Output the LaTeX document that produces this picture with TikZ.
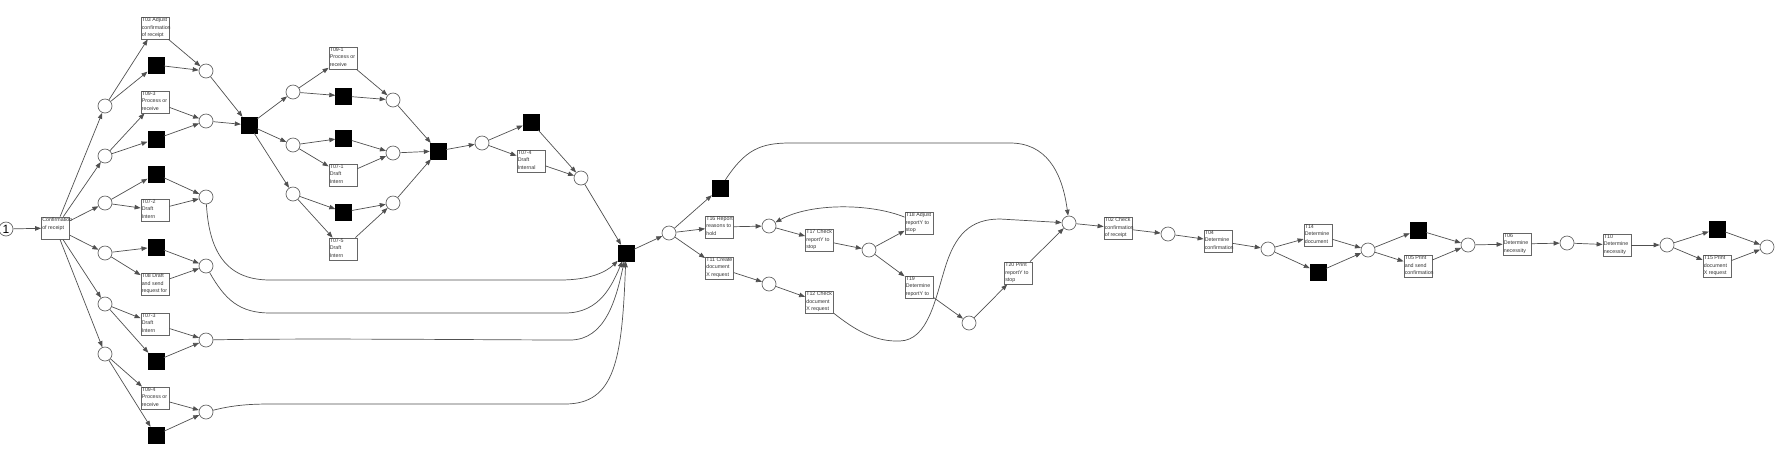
\documentclass[tikz,border=0pt]{standalone}
\usepackage{fontspec}
\setmainfont{Liberation Sans}
\usetikzlibrary{arrows.meta}
\definecolor{lin}{HTML}{505050}
\definecolor{brd}{HTML}{666666}
\definecolor{txt}{HTML}{333333}
\tikzset{
  pl/.style={circle,draw=brd,line width=0.7pt,fill=white,minimum size=14pt,inner sep=0pt},
  tbox/.style={rectangle,draw=brd,line width=0.8pt,fill=white,minimum width=28pt,minimum height=22pt,inner sep=0pt},
  tlab/.style={anchor=north west,align=left,inner xsep=1pt,inner ysep=1.2pt,text=txt,font=\fontsize{5.3}{7.2}\selectfont},
  blk/.style={rectangle,fill=black,draw=black,minimum size=16pt,inner sep=0pt},
  arc/.style={draw=lin,line width=0.7pt,-{Triangle[length=6pt,width=4.5pt]}}
}
\newcommand{\mytrans}[3]{\node[tbox] (#1) at (#2) {}; \node[tlab] (#1-l) at (#1.north west) {#3};}
\begin{document}
\begin{tikzpicture}[x=1pt,y=-1pt]
\useasboundingbox (0,0) rectangle (1781,451);
% places
\node[pl,font=\fontsize{12}{12}\selectfont] (start) at (6,229) {1};
\foreach \n/\yy in {pa/106,pb/156,pc/203,pd/253,pe/304,pf/354} \node[pl] (\n) at (105,\yy) {};
\foreach \n/\yy in {q1/71,q2/121,q3/197,q4/266,q5/340,q6/412} \node[pl] (\n) at (206,\yy) {};
\foreach \n/\yy in {r1/92,r2/145,r3/194} \node[pl] (\n) at (293,\yy) {};
\foreach \n/\yy in {s1/100,s2/153,s3/203} \node[pl] (\n) at (393,\yy) {};
\node[pl] (u) at (482,143) {};
\node[pl] (v) at (581,178) {};
\node[pl] (w) at (669,233) {};
\node[pl] (x1) at (769,226) {};
\node[pl] (x2) at (769,284) {};
\node[pl] (y) at (869,250) {};
\node[pl] (z) at (969,323) {};
\node[pl] (aa) at (1069,223) {};
\node[pl] (bb) at (1168,234) {};
\node[pl] (cc) at (1268,249) {};
\node[pl] (dd) at (1368,250) {};
\node[pl] (ee) at (1468,245) {};
\node[pl] (ff) at (1567,243) {};
\node[pl] (gg) at (1667,245) {};
\node[pl] (hh) at (1767,247) {};
% labelled transitions
\mytrans{conf}{55.5,228}{Confirmation\\of receipt}
\mytrans{t03}{155,28}{T03 Adjust\\confirmation\\ of receipt}
\mytrans{t093}{155,102}{T09-3\\Process or\\receive}
\mytrans{t072}{155,210}{T07-2\\Draft\\Intern}
\mytrans{t08}{155,284}{T08 Draft\\and send\\request for}
\mytrans{t073}{155,324}{T07-3\\Draft\\Intern}
\mytrans{t094}{155,398}{T09-4\\Process or\\receive}
\mytrans{t091}{343,58}{T09-1\\Process or\\receive}
\mytrans{t071}{343,175}{T07-1\\Draft\\Intern}
\mytrans{t075}{343,249}{T07-5\\Draft\\Intern}
\mytrans{t074}{531,161}{T07-4\\Draft\\Internal}
\mytrans{t16}{719.5,227}{T16 Report\\reasons to\\hold}
\mytrans{t11}{719.5,268}{T11 Create\\document\\X request}
\mytrans{t17}{819.5,240}{T17 Check\\reportY to\\stop}
\mytrans{t12}{819.5,302}{T12 Check\\document\\X request}
\mytrans{t18}{919,223}{T18 Adjust\\reportY to\\stop}
\mytrans{t19}{919,287}{T19\\Determine\\reportY to}
\mytrans{t20}{1018.5,273}{T20 Print\\reportY to\\stop}
\mytrans{t02}{1118,228}{T02 Check\\confirmation\\of receipt}
\mytrans{t04}{1218,241}{T04\\Determine\\confirmation}
\mytrans{t14}{1318,235}{T14\\Determine\\document}
\mytrans{t05}{1418,266}{T05 Print\\and send\\confirmation}
\mytrans{t06}{1517,244}{T06\\Determine\\necessity}
\mytrans{t10}{1617,245}{T10\\Determine\\necessity}
\mytrans{t15}{1717,266}{T15 Print\\document\\X request}
% silent transitions
\foreach \n/\yy in {b1/65,b2/139,b3/174,b4/247,b5/361,b6/435} \node[blk] (\n) at (155.7,\yy) {};
\node[blk] (bs) at (249,125) {};
\node[blk] (b7) at (343.5,96) {};
\node[blk] (b8) at (343.5,138) {};
\node[blk] (b9) at (343.5,212) {};
\node[blk] (bj) at (438,151) {};
\node[blk] (b10) at (531,122) {};
\node[blk] (bigj) at (626,253) {};
\node[blk] (b11) at (720,188) {};
\node[blk] (b12) at (1318,272) {};
\node[blk] (b13) at (1418,230) {};
\node[blk] (b14) at (1717,229) {};
% straight arcs
\foreach \a/\b in {start/conf,conf/pa,conf/pb,conf/pc,conf/pd,conf/pe,conf/pf,
  pa/t03,pa/b1,pb/t093,pb/b2,pc/b3,pc/t072,pd/b4,pd/t08,pe/t073,pe/b5,pf/t094,pf/b6,
  t03/q1,b1/q1,t093/q2,b2/q2,b3/q3,t072/q3,b4/q4,t08/q4,t073/q5,b5/q5,t094/q6,b6/q6,
  q1/bs,q2/bs,bs/r1,bs/r2,bs/r3,r1/t091,r1/b7,r2/b8,r2/t071,r3/b9,r3/t075,
  t091/s1,b7/s1,b8/s2,t071/s2,b9/s3,t075/s3,s1/bj,s2/bj,s3/bj,bj/u,
  u/b10,u/t074,b10/v,t074/v,v/bigj,bigj/w,
  w/b11,w/t16,w/t11,t16/x1,x1/t17,t17/y,y/t18,y/t19,t11/x2,x2/t12,t19/z,z/t20,t20/aa,
  aa/t02,t02/bb,bb/t04,t04/cc,cc/t14,cc/b12,t14/dd,b12/dd,dd/b13,dd/t05,b13/ee,t05/ee,
  ee/t06,t06/ff,ff/t10,t10/gg,gg/b14,gg/t15,b14/hh,t15/hh}
  \draw[arc] (\a) -- (\b);
% curved arcs
\draw[arc] (q3) .. controls (209,250) and (225,280) .. (270,280) -- (560,280) .. controls (590,280) and (606,272) .. (bigj);
\draw[arc] (q4) .. controls (225,300) and (240,313) .. (270,313) -- (565,313) .. controls (600,313) and (612,285) .. (bigj);
\draw[arc] (q5) .. controls (300,338) and (500,340) .. (570,340) .. controls (605,340) and (616,300) .. (bigj);
\draw[arc] (q6) .. controls (230,406) and (245,404) .. (270,404) -- (565,404) .. controls (615,404) and (622,360) .. (bigj);
\draw[arc] (b11) .. controls (745,150) and (760,143) .. (790,143) -- (1010,143) .. controls (1045,143) and (1062,170) .. (aa);
\draw[arc] (t18) .. controls (870,203) and (810,203) .. (x1);
\draw[arc] (t12) .. controls (855,330) and (875,342) .. (900,341) .. controls (928,340) and (935,300) .. (945,268) .. controls (955,235) and (970,219) .. (1000,219) -- (aa);
\end{tikzpicture}
\end{document}
